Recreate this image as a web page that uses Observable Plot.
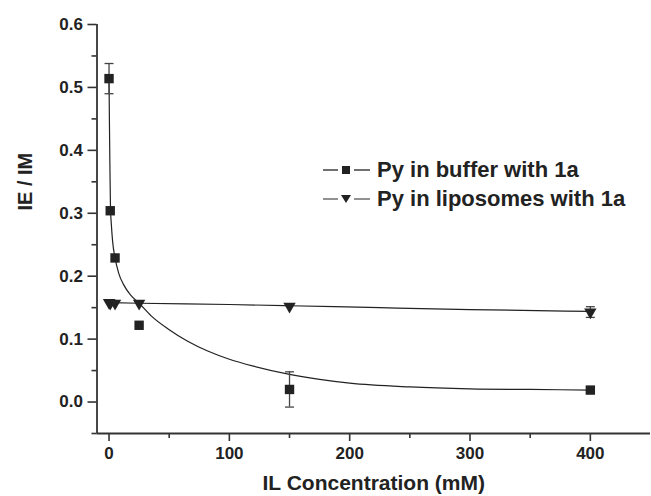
<!DOCTYPE html>
<html>
<head>
<meta charset="utf-8">
<script src="https://cdn.jsdelivr.net/npm/d3@7"></script>
<script src="https://cdn.jsdelivr.net/npm/@observablehq/plot@0.6"></script>
<style>
  html, body { margin: 0; padding: 0; background: #fff; }
  #wrap { position: relative; width: 651px; height: 496px; font-family: "Liberation Sans", Arial, sans-serif; }
  .legend { position: absolute; left: 323px; top: 155px; font-weight: bold; font-size: 22px; color: #222; line-height: 29px; }
  .legend .row { display: flex; align-items: center; height: 29px; }
  .legend svg { margin-right: 6px; }
</style>
</head>
<body>
<div id="wrap"></div>
<script>
// ---- data ----
const bufferX = [0, 1, 5, 25, 150, 400];
const bufferY = [0.514, 0.304, 0.229, 0.122, 0.020, 0.019];
const bufferErr = [0.024, 0, 0, 0, 0.028, 0];

const liposX = [0, 1, 5, 25, 150, 400];
const liposY = [0.158, 0.157, 0.157, 0.157, 0.152, 0.143];
const liposErr = [0, 0, 0, 0, 0, 0.0085];

const bufferFitX = [0, 0.3, 0.7, 1.2, 2, 3, 5, 8, 12, 18, 25, 35, 50, 65, 82, 100, 120, 150, 175, 200, 250, 300, 350, 400];
const bufferFitY = [0.514, 0.45, 0.38, 0.31, 0.28, 0.255, 0.229, 0.205, 0.187, 0.170, 0.157, 0.137, 0.115, 0.097, 0.081, 0.068, 0.057, 0.044, 0.036, 0.030, 0.024, 0.021, 0.020, 0.019];

const liposFitX = [0, 25, 100, 150, 225, 300, 400];
const liposFitY = [0.158, 0.157, 0.155, 0.153, 0.150, 0.147, 0.144];

const xMajorTicks = [0, 100, 200, 300, 400];
const xMinorTicks = [50, 150, 250, 350];
const yMajorTicks = [0.0, 0.1, 0.2, 0.3, 0.4, 0.5, 0.6];
const yMinorTicks = [-0.05, 0.05, 0.15, 0.25, 0.35, 0.45, 0.55];
const xDomain = [-10, 450];
const yDomain = [-0.05, 0.6];
const xTitle = "IL Concentration (mM)";
const yTitle = "IE / IM";
const seriesNames = ["Py in buffer with 1a", "Py in liposomes with 1a"];

// ---- tables ----
const buffer = bufferX.map((x, i) => ({x, y: bufferY[i], lo: bufferY[i] - bufferErr[i], hi: bufferY[i] + bufferErr[i], e: bufferErr[i]}));
const lipos = liposX.map((x, i) => ({x, y: liposY[i], lo: liposY[i] - liposErr[i], hi: liposY[i] + liposErr[i], e: liposErr[i]}));
const bufferFit = bufferFitX.map((x, i) => ({x, y: bufferFitY[i]}));
const liposFit = liposFitX.map((x, i) => ({x, y: liposFitY[i]}));
const errs = buffer.concat(lipos).filter(d => d.e > 0);

const cap = {draw(ctx) { ctx.moveTo(-4.5, 0); ctx.lineTo(4.5, 0); }};
const ink = "#222";
const axisInk = "#333";
const font = "'Liberation Sans', Arial, sans-serif";

const chart = Plot.plot({
  width: 651,
  height: 496,
  marginLeft: 96.5,
  marginRight: 1,
  marginTop: 24,
  marginBottom: 63,
  style: {fontFamily: font, background: "white", color: ink},
  x: {domain: xDomain},
  y: {domain: yDomain},
  marks: [
    // fit curves
    Plot.line(bufferFit, {x: "x", y: "y", stroke: ink, strokeWidth: 1.2, curve: "monotone-x"}),
    Plot.line(liposFit, {x: "x", y: "y", stroke: ink, strokeWidth: 1.2, curve: "monotone-x"}),
    // error bars
    Plot.ruleX(errs, {x: "x", y1: "lo", y2: "hi", stroke: "#444", strokeWidth: 1.3}),
    Plot.dot(errs, {x: "x", y: "hi", symbol: cap, stroke: "#444", strokeWidth: 1.3, fill: "none"}),
    Plot.dot(errs, {x: "x", y: "lo", symbol: cap, stroke: "#444", strokeWidth: 1.3, fill: "none"}),
    // markers
    Plot.dot(buffer, {x: "x", y: "y", symbol: "square", r: 5.3, fill: ink, stroke: "none"}),
    Plot.dot(lipos, {x: "x", y: "y", symbol: "triangle", r: 4.6, rotate: 180, fill: ink, stroke: "none"}),
    // axis lines
    Plot.ruleY([yDomain[0]], {stroke: axisInk, strokeWidth: 1.8}),
    Plot.ruleX([xDomain[0]], {stroke: axisInk, strokeWidth: 1.8}),
    // axes
    Plot.axisX({ticks: xMajorTicks, tickSize: 8, tickPadding: 5, tickFormat: d => String(d), fontSize: 17, fontWeight: "bold", fill: ink, stroke: axisInk, strokeWidth: 1.6, label: null}),
    Plot.axisX({ticks: xMinorTicks, tickSize: 5, tickFormat: () => "", stroke: axisInk, strokeWidth: 1.6, label: null}),
    Plot.axisY({ticks: yMajorTicks, tickSize: 9, tickPadding: 5, tickFormat: d3.format(".1f"), fontSize: 17, fontWeight: "bold", fill: ink, stroke: axisInk, strokeWidth: 1.6, label: null}),
    Plot.axisY({ticks: yMinorTicks, tickSize: 5, tickFormat: () => "", stroke: axisInk, strokeWidth: 1.6, label: null}),
    // axis titles
    Plot.text([xTitle], {frameAnchor: "bottom", dy: 50, text: d => d, fontSize: 21, fontWeight: "bold", fill: ink, lineAnchor: "middle"}),
    Plot.text([yTitle], {frameAnchor: "left", dx: -71.5, dy: -18.5, rotate: -90, text: d => d, fontSize: 20, fontWeight: "bold", fill: ink, lineAnchor: "middle"})
  ]
});

const wrap = document.getElementById("wrap");
wrap.appendChild(chart);

// legend
const legend = document.createElement("div");
legend.className = "legend";
const sq = `<svg width="48" height="12" viewBox="0 0 48 12"><line x1="0" y1="6" x2="15" y2="6" stroke="${ink}" stroke-width="1.3"/><line x1="31" y1="6" x2="47" y2="6" stroke="${ink}" stroke-width="1.3"/><rect x="19" y="2" width="8" height="8" fill="${ink}"/></svg>`;
const tri = `<svg width="48" height="12" viewBox="0 0 48 12"><line x1="0" y1="6" x2="15" y2="6" stroke="#555" stroke-width="1.3"/><line x1="31" y1="6" x2="47" y2="6" stroke="#555" stroke-width="1.3"/><path d="M18,2 L28,2 L23,10 Z" fill="${ink}"/></svg>`;
legend.innerHTML = `<div class="row">${sq}<span>${seriesNames[0]}</span></div><div class="row">${tri}<span>${seriesNames[1]}</span></div>`;
wrap.appendChild(legend);
</script>
</body>
</html>
